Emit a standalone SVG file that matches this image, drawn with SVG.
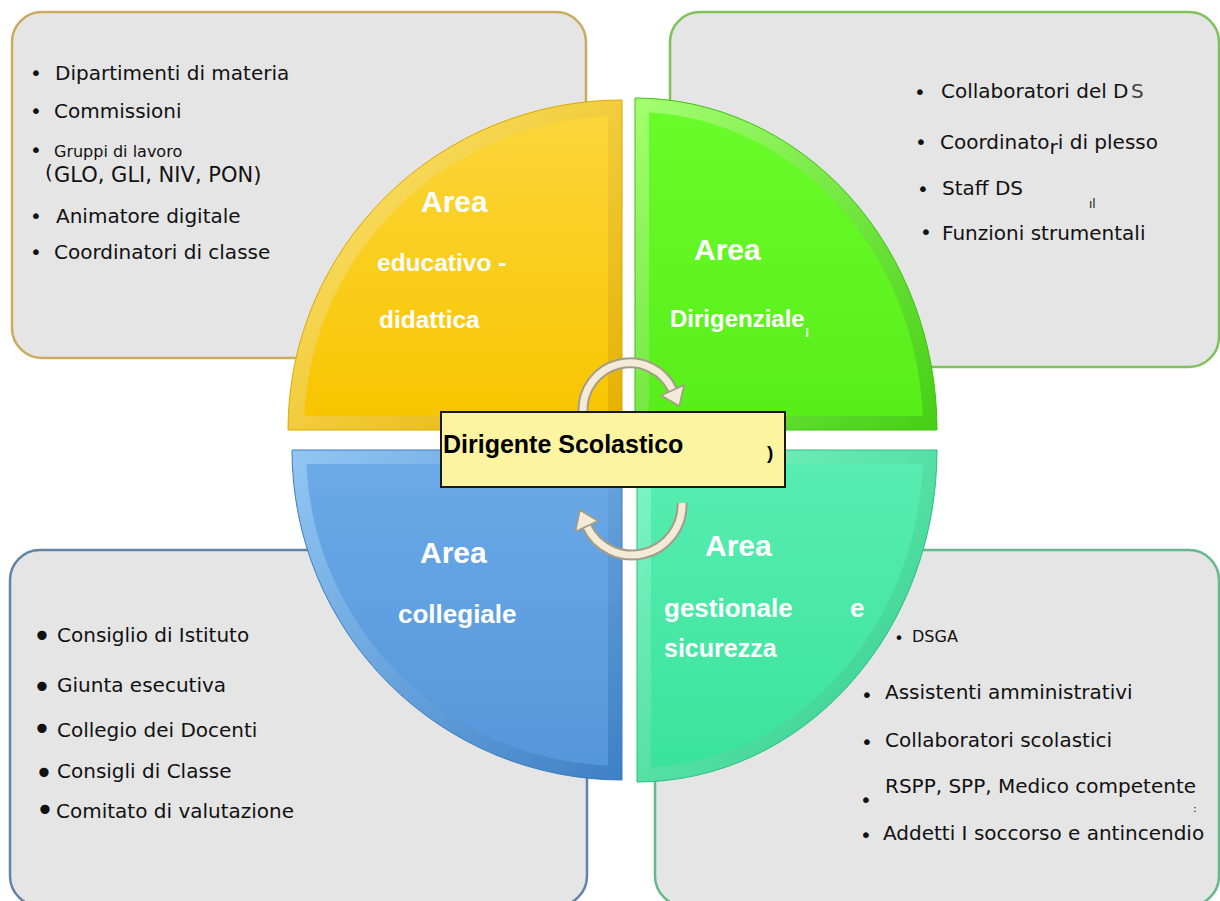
<svg xmlns="http://www.w3.org/2000/svg" width="1220" height="901" viewBox="0 0 1220 901">
<defs>
<style>
.box{fill:#e5e5e5;stroke-width:2.5}
.lst{font-family:"DejaVu Sans",Verdana,sans-serif;font-size:20px;fill:#111}
.bul{font-family:"DejaVu Sans",sans-serif;font-size:20px;fill:#111;text-anchor:middle}
.bulb{font-family:"DejaVu Sans",sans-serif;font-size:32px;fill:#111;text-anchor:middle}
.lab{font-family:"Liberation Sans",Arial,sans-serif;font-weight:bold;fill:#fff}
.arr-o{fill:none;stroke:#a39c86;stroke-width:11}
.arr-i{fill:none;stroke:#f3ead7;stroke-width:7}
.head{fill:#f3ead7;stroke:#a39c86;stroke-width:1.5;stroke-linejoin:round}
</style>
<linearGradient id="yRim" x1="0" y1="0" x2="1" y2="1"><stop offset="0" stop-color="#ffe879"/><stop offset="1" stop-color="#e4b000"/></linearGradient>
<linearGradient id="yFace" x1="0" y1="0" x2="0" y2="1"><stop offset="0" stop-color="#fbd63a"/><stop offset="1" stop-color="#f8c500"/></linearGradient>
<linearGradient id="gRim" x1="0" y1="0" x2="1" y2="1"><stop offset="0" stop-color="#a4ff70"/><stop offset="1" stop-color="#45cf15"/></linearGradient>
<linearGradient id="gFace" x1="0" y1="0" x2="0" y2="1"><stop offset="0" stop-color="#6afb2a"/><stop offset="1" stop-color="#58ee1a"/></linearGradient>
<linearGradient id="bRim" x1="0" y1="0" x2="1" y2="1"><stop offset="0" stop-color="#92c6f3"/><stop offset="1" stop-color="#3e80c6"/></linearGradient>
<linearGradient id="bFace" x1="0" y1="0" x2="0" y2="1"><stop offset="0" stop-color="#6ba9e7"/><stop offset="1" stop-color="#5597db"/></linearGradient>
<linearGradient id="tRim" x1="0" y1="0" x2="1" y2="1"><stop offset="0" stop-color="#80f6c7"/><stop offset="1" stop-color="#2ccb86"/></linearGradient>
<linearGradient id="tFace" x1="0" y1="0" x2="0" y2="1"><stop offset="0" stop-color="#57edb2"/><stop offset="1" stop-color="#3be39c"/></linearGradient>
</defs>
<rect width="1220" height="901" fill="#ffffff"/>

<g id="box-educativo">
<rect class="box" x="12" y="12" width="574" height="346" rx="30" stroke="#c9ac5e"/>
<text class="bul" x="36" y="80">•</text><text class="lst" x="55" y="80">Dipartimenti di materia</text>
<text class="bul" x="36" y="118">•</text><text class="lst" x="54" y="118">Commissioni</text>
<text class="bul" x="36" y="157">•</text><text class="lst" x="54" y="157" style="font-size:16px">Gruppi di lavoro</text>
<text class="lst" x="45" y="179">(</text><text class="lst" x="54" y="182" style="font-size:21px">GLO, GLI, NIV, PON)</text>
<text class="bul" x="36" y="223">•</text><text class="lst" x="56" y="223">Animatore digitale</text>
<text class="bul" x="36" y="259">•</text><text class="lst" x="54" y="259">Coordinatori di classe</text>
</g>

<g id="box-dirigenziale">
<rect class="box" x="670" y="12" width="549" height="355" rx="30" stroke="#7ec25a"/>
<text class="bul" x="920" y="99">•</text><text class="lst" x="941" y="98">Collaboratori del D</text><text class="lst" x="1131" y="98" style="fill:#444">S</text>
<text class="bul" x="921" y="149">•</text><text class="lst" x="940" y="149">Coordinato<tspan dy="5">r</tspan><tspan dy="-5">i di plesso</tspan></text>
<text class="bul" x="923" y="196">•</text><text class="lst" x="942" y="195">Staff DS</text>
<text class="lst" x="1089" y="208" style="font-size:12px">ıl</text>
<text class="bul" x="926" y="239">•</text><text class="lst" x="942" y="240">Funzioni strumentali</text>
</g>

<g id="box-collegiale">
<rect class="box" x="10" y="550" width="577" height="356" rx="30" stroke="#6283a3"/>
<text class="bulb" x="42" y="647">•</text><text class="lst" x="57" y="642">Consiglio di Istituto</text>
<text class="bulb" x="42" y="698">•</text><text class="lst" x="57" y="692">Giunta esecutiva</text>
<text class="bulb" x="42" y="740">•</text><text class="lst" x="57" y="737">Collegio dei Docenti</text>
<text class="bulb" x="44" y="784">•</text><text class="lst" x="57" y="778">Consigli di Classe</text>
<text class="bulb" x="45" y="821">•</text><text class="lst" x="56" y="818">Comitato di valutazione</text>
</g>

<g id="box-gestionale">
<rect class="box" x="655" y="550" width="564" height="356" rx="30" stroke="#66b98c"/>
<text class="bul" x="899" y="644" style="font-size:16px">•</text><text class="lst" x="912" y="642" style="font-size:16px">DSGA</text>
<text class="bul" x="867" y="702">•</text><text class="lst" x="885" y="699">Assistenti amministrativi</text>
<text class="bul" x="867" y="749">•</text><text class="lst" x="885" y="747">Collaboratori scolastici</text>
<text class="bul" x="866" y="807">•</text><text class="lst" x="885" y="793">RSPP, SPP, Medico competente</text>
<text class="lst" x="1193" y="812" style="font-size:11px">:</text>
<text class="bul" x="866" y="842">•</text><text class="lst" x="883" y="840">Addetti I soccorso e antincendio</text>
</g>

<g id="area-educativo">
<path d="M622,100 L622,430 L288,430 A334,330 0 0 1 622,100 Z" fill="url(#yRim)" stroke="#d9a900" stroke-width="1"/>
<path d="M608,116.3 L608,416 L304.3,416 A318,314 0 0 1 608,116.3 Z" fill="url(#yFace)"/>
<text class="lab" x="421" y="212" style="font-size:30px">Area</text>
<text class="lab" x="377" y="271" style="font-size:24.5px">educativo -</text>
<text class="lab" x="379" y="328" style="font-size:24.5px">didattica</text>
</g>

<g id="area-dirigenziale">
<path d="M635,98 A302,332 0 0 1 937,430 L635,430 Z" fill="url(#gRim)" stroke="#3fbf10" stroke-width="1"/>
<path d="M649,112.4 A288,318 0 0 1 922.7,416 L649,416 Z" fill="url(#gFace)"/>
<text class="lab" x="694" y="260" style="font-size:30px">Area</text>
<text class="lab" x="670" y="327" style="font-size:24px">Dirigenziale</text>
<text class="lab" x="805" y="335" style="font-size:13px">¡</text>
</g>

<g id="area-collegiale">
<path d="M292,450 L622,450 L622,780 A330,330 0 0 1 292,450 Z" fill="url(#bRim)" stroke="#3b7cc0" stroke-width="1"/>
<path d="M306.3,464 L608,464 L608,765.7 A316,316 0 0 1 306.3,464 Z" fill="url(#bFace)"/>
<text class="lab" x="420" y="563" style="font-size:30px">Area</text>
<text class="lab" x="398" y="623" style="font-size:26px">collegiale</text>
</g>

<g id="area-gestionale">
<path d="M637,450 L937,450 A300,332 0 0 1 637,782 Z" fill="url(#tRim)" stroke="#28c07e" stroke-width="1"/>
<path d="M651,464 L922.7,464 A286,318 0 0 1 651,767.6 Z" fill="url(#tFace)"/>
<text class="lab" x="705" y="556" style="font-size:30px">Area</text>
<text class="lab" x="664" y="617" style="font-size:26px">gestionale</text>
<text class="lab" x="850" y="617" style="font-size:26px">e</text>
<text class="lab" x="664" y="657" style="font-size:25px">sicurezza</text>
</g>

<g id="connectors">
<path class="arr-o" d="M583,412 A47,47 0 0 1 672.6,390.1"/>
<path class="arr-i" d="M583,412 A47,47 0 0 1 672.6,390.1"/>
<polygon class="head" points="684,385 661,395.5 679.3,406"/>
<path class="arr-o" d="M682,503 A50,50 0 0 1 586.7,526.1"/>
<path class="arr-i" d="M682,503 A50,50 0 0 1 586.7,526.1"/>
<polygon class="head" points="598,521 575.5,531.5 580,510"/>
</g>

<g id="dirigente">
<rect x="441" y="412" width="344" height="75" fill="#fdf4a2" stroke="#1a1a1a" stroke-width="2"/>
<text x="443" y="453" style="font-family:'Liberation Sans',Arial,sans-serif;font-weight:bold;font-size:25px;fill:#000">Dirigente Scolastico</text>
<text x="767" y="459" style="font-family:'Liberation Sans',Arial,sans-serif;font-weight:bold;font-size:19px;fill:#000">)</text>
</g>
</svg>
